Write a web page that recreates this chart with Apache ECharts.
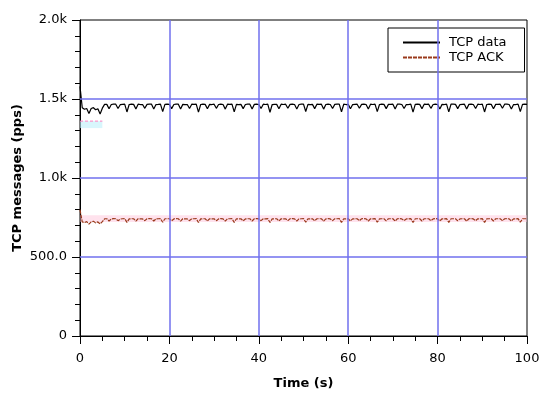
<!DOCTYPE html>
<html><head><meta charset="utf-8">
<script src="https://cdn.jsdelivr.net/npm/echarts@6/dist/echarts.min.js"></script>
<style>html,body{margin:0;padding:0;background:#fff}#c{width:550px;height:395px}</style>
</head><body><div id="c"></div>
<script>
const timeS = [0,0.5,1,1.5,2,2.5,3,3.5,4,4.5,5,5.5,6,6.5,7,7.5,8,8.5,9,9.5,10,10.5,11,11.5,12,12.5,13,13.5,14,14.5,15,15.5,16,16.5,17,17.5,18,18.5,19,19.5,20,20.5,21,21.5,22,22.5,23,23.5,24,24.5,25,25.5,26,26.5,27,27.5,28,28.5,29,29.5,30,30.5,31,31.5,32,32.5,33,33.5,34,34.5,35,35.5,36,36.5,37,37.5,38,38.5,39,39.5,40,40.5,41,41.5,42,42.5,43,43.5,44,44.5,45,45.5,46,46.5,47,47.5,48,48.5,49,49.5,50,50.5,51,51.5,52,52.5,53,53.5,54,54.5,55,55.5,56,56.5,57,57.5,58,58.5,59,59.5,60,60.5,61,61.5,62,62.5,63,63.5,64,64.5,65,65.5,66,66.5,67,67.5,68,68.5,69,69.5,70,70.5,71,71.5,72,72.5,73,73.5,74,74.5,75,75.5,76,76.5,77,77.5,78,78.5,79,79.5,80,80.5,81,81.5,82,82.5,83,83.5,84,84.5,85,85.5,86,86.5,87,87.5,88,88.5,89,89.5,90,90.5,91,91.5,92,92.5,93,93.5,94,94.5,95,95.5,96,96.5,97,97.5,98,98.5,99,99.5,100];
const tcpData = [1580,1445,1435,1440,1408,1440,1445,1432,1438,1405,1442,1466,
1466,1438,1465,1468, 1467,1440,1464,1466, 1468,1418,1465,1467, 1466,1436,1467,1465,
1465,1441,1466,1468, 1467,1437,1465,1466, 1468,1420,1466,1467, 1466,1439,1465,1468,
1467,1436,1466,1465, 1465,1440,1467,1466, 1468,1417,1465,1467, 1466,1438,1466,1465,
1467,1441,1465,1468, 1465,1436,1467,1466, 1468,1419,1466,1465, 1466,1439,1465,1467,
1467,1437,1466,1468, 1465,1440,1467,1465, 1468,1416,1465,1466, 1466,1438,1467,1465,
1467,1441,1466,1468, 1465,1437,1465,1467, 1468,1421,1466,1465, 1466,1439,1467,1466,
1467,1436,1465,1468, 1465,1440,1466,1467, 1468,1418,1467,1465, 1466,1438,1465,1466,
1467,1441,1466,1468, 1465,1437,1467,1465, 1468,1420,1465,1467, 1466,1439,1466,1466,
1467,1436,1467,1468, 1465,1440,1465,1465, 1468,1417,1466,1467, 1466,1438,1467,1466,
1467,1441,1465,1468, 1465,1437,1466,1465, 1468,1419,1467,1467, 1466,1439,1465,1466,
1467,1436,1466,1468, 1465,1440,1467,1465, 1468,1418,1465,1467, 1466,1438,1466,1466,
1467,1441,1467,1468, 1465,1437,1465,1465, 1468,1420,1466,1467, 1466];
const tcpAck = [800,722,718,724,708,722,726,716,722,710,724,742,
742,728,741,743, 742,730,740,742, 743,719,741,742, 742,727,742,741,
741,730,742,743, 742,728,741,742, 743,720,742,742, 742,729,741,743,
742,727,742,741, 741,730,742,742, 743,718,741,742, 742,728,742,741,
742,730,741,743, 741,727,742,742, 743,719,742,741, 742,729,741,742,
742,728,742,743, 741,730,742,741, 743,718,741,742, 742,728,742,741,
742,730,742,743, 741,728,741,742, 743,720,742,741, 742,729,742,742,
742,727,741,743, 741,730,742,742, 743,719,742,741, 742,728,741,742,
742,730,742,743, 741,728,742,741, 743,720,741,742, 742,729,742,742,
742,727,742,743, 741,730,741,741, 743,718,742,742, 742,728,742,742,
742,730,741,743, 741,728,742,741, 743,719,742,742, 742,729,741,742,
742,727,742,743, 741,730,742,741, 743,719,741,742, 742,728,742,742,
742,730,742,743, 741,728,741,741, 743,720,742,742, 742];
const ackBand = [722, 765];
const artifactT = [0, 5];
const artifactV = [1360, 1360];
const artifactBand = [1316, 1360];
const xGridVals = [20, 40, 60, 80];
const yGridVals = [500, 1000, 1500];
const yTickLabels = ['0','500.0','1.0k','1.5k','2.0k'];
const xTickLabels = ['0','20','40','60','80','100'];
const seriesNames = ['TCP data','TCP ACK'];

const pair = (xs, ys) => xs.map((x, i) => [x, ys[i]]);
const FONT = 'DejaVu Sans';
const BLUE = '#7070ee';
const chart = echarts.init(document.getElementById('c'), null, {renderer: 'canvas'});
chart.setOption({
  animation: false,
  backgroundColor: '#fff',
  grid: {left: 80, right: 23, top: 20, bottom: 59, show: true, borderColor: '#000', borderWidth: 1, backgroundColor: 'transparent'},
  legend: {
    data: seriesNames,
    orient: 'vertical', left: 388, top: 28,
    padding: [8, 18, 8, 14], itemWidth: 37, itemHeight: 12, itemGap: 2,
    borderColor: '#000', borderWidth: 1, backgroundColor: '#fff',
    itemStyle: {opacity: 0},
    textStyle: {fontFamily: FONT, fontSize: 13, color: '#000', padding: [0, 0, 0, 4]}
  },
  xAxis: {
    type: 'value', min: 0, max: 100, interval: 20,
    name: 'Time (s)', nameLocation: 'middle', nameGap: 41, nameMoveOverlap: false,
    nameTextStyle: {fontFamily: FONT, fontSize: 13, fontWeight: 'bold', color: '#000'},
    axisLine: {lineStyle: {color: '#000', width: 1}},
    axisTick: {length: 8, lineStyle: {color: '#000'}},
    minorTick: {show: true, splitNumber: 4, length: 5, lineStyle: {color: '#000'}},
    axisLabel: {fontFamily: FONT, fontSize: 13, color: '#000', margin: 16,
      formatter: v => xTickLabels[Math.round(v / 20)]},
    splitLine: {show: false}
  },
  yAxis: {
    type: 'value', min: 0, max: 2000, interval: 500,
    name: 'TCP messages (pps)', nameLocation: 'middle', nameGap: 56, nameMoveOverlap: false,
    nameTextStyle: {fontFamily: FONT, fontSize: 13, fontWeight: 'bold', color: '#000'},
    axisLine: {show: true, lineStyle: {color: '#000', width: 1}},
    axisTick: {show: true, length: 8, lineStyle: {color: '#000'}},
    minorTick: {show: true, splitNumber: 5, length: 5, lineStyle: {color: '#000'}},
    axisLabel: {fontFamily: FONT, fontSize: 13, color: '#000', margin: 13,
      formatter: v => yTickLabels[Math.round(v / 500)]},
    splitLine: {show: false}
  },
  series: [{
    name: 'gridlines', type: 'line', data: [], silent: true, z: 1,
    markLine: {silent: true, symbol: 'none', label: {show: false},
      lineStyle: {color: BLUE, width: 1.5, type: 'solid'},
      data: xGridVals.map(v => ({xAxis: v})).concat(yGridVals.map(v => ({yAxis: v})))}
  }, {
    name: 'artifact', type: 'line', data: pair(artifactT, artifactV), symbol: 'none',
    lineStyle: {color: '#ff80c0', width: 1, type: [3, 2]}, silent: true,
    markArea: {silent: true, itemStyle: {color: 'rgba(190,240,250,0.6)'},
      data: [[{xAxis: artifactT[0], yAxis: artifactBand[0]}, {xAxis: artifactT[1], yAxis: artifactBand[1]}]]}
  }, {
    name: 'TCP ACK', type: 'line', data: pair(timeS, tcpAck), symbol: 'none',
    color: '#9a3a1c',
    lineStyle: {color: '#9a3a1c', width: 1.2, type: [4, 1]},
    markArea: {silent: true, itemStyle: {color: 'rgba(255,190,215,0.45)'},
      data: [[{yAxis: ackBand[0]}, {yAxis: ackBand[1]}]]}
  }, {
    name: 'TCP data', type: 'line', data: pair(timeS, tcpData), symbol: 'none',
    color: '#000',
    lineStyle: {color: '#000', width: 1.2}
  }]
});
</script></body></html>
